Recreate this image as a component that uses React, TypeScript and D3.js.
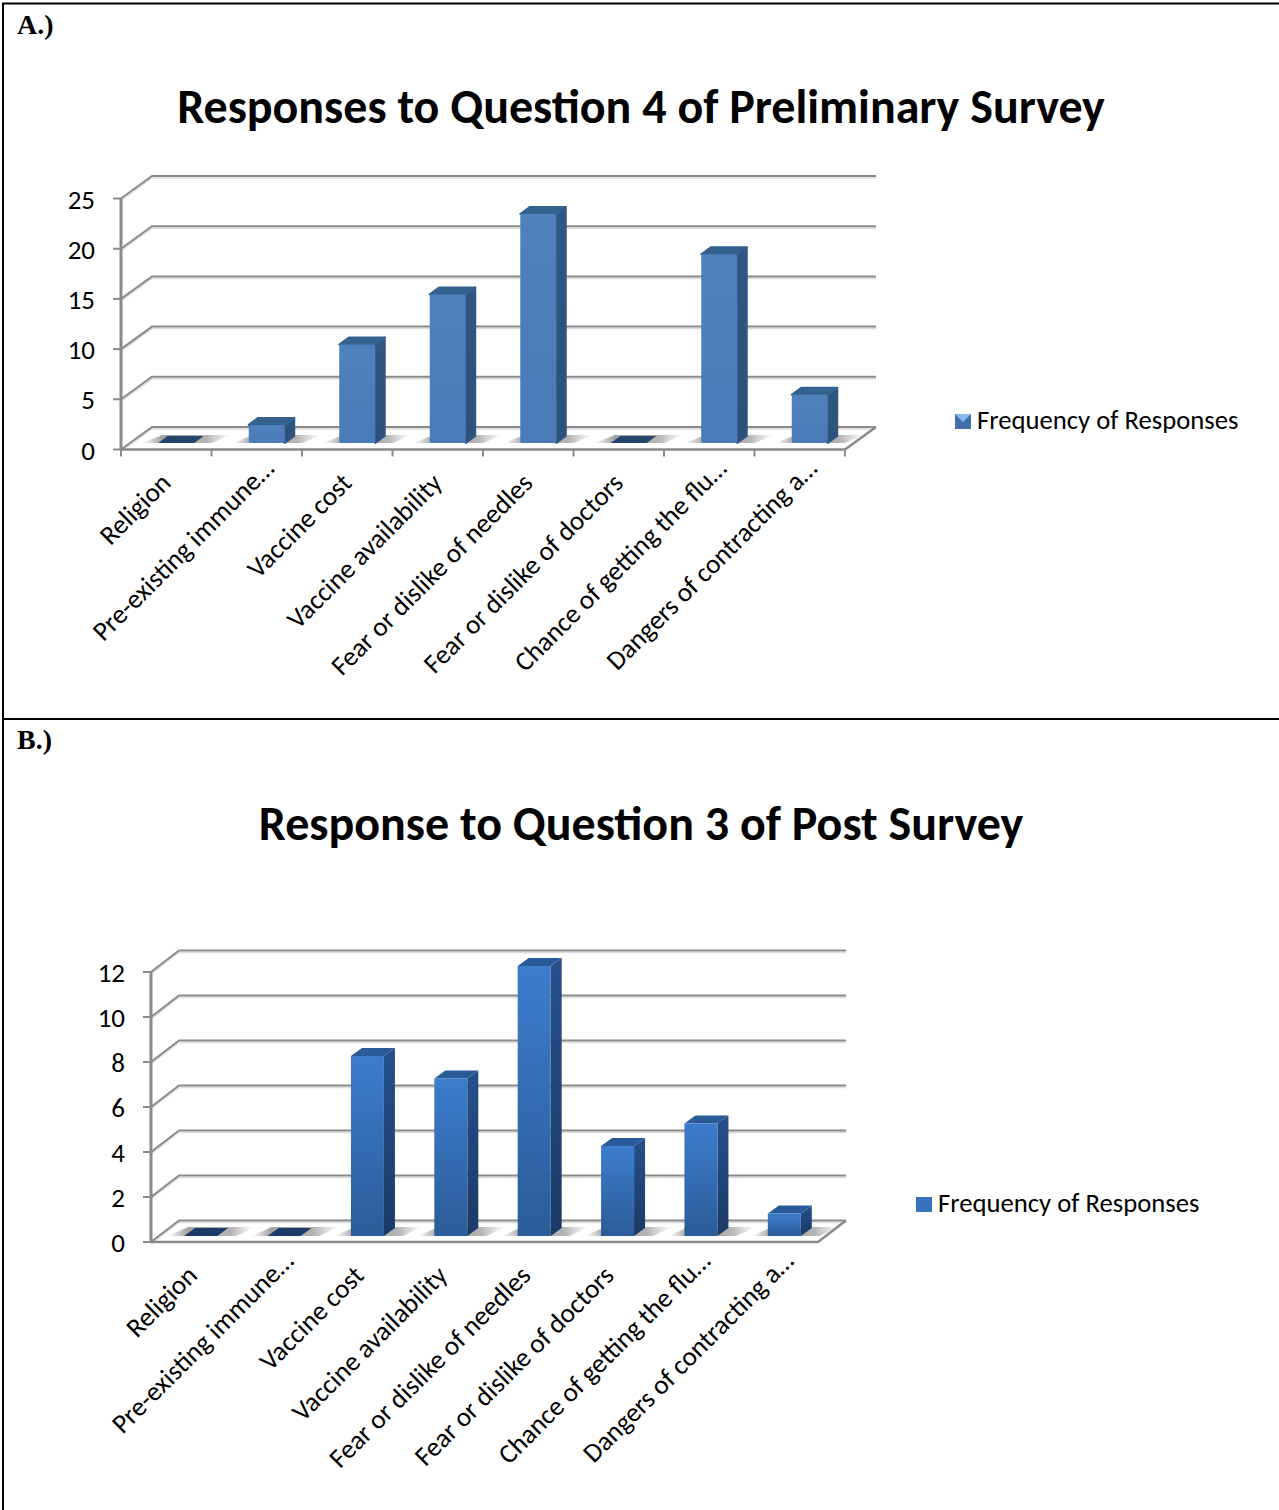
import React from "react";
import * as d3 from "d3";

const categories = [
  "Religion",
  "Pre-existing immune…",
  "Vaccine cost",
  "Vaccine availability",
  "Fear or dislike of needles",
  "Fear or dislike of doctors",
  "Chance of getting the flu…",
  "Dangers of contracting a…",
];
const preliminaryCounts = [0, 2, 10, 15, 23, 0, 19, 5];
const postCounts = [0, 0, 8, 7, 12, 4, 5, 1];
const preliminaryTicks = [0, 5, 10, 15, 20, 25];
const postTicks = [0, 2, 4, 6, 8, 10, 12];
const seriesName = "Frequency of Responses";

const SANS = "Carlito, Calibri, Lato, sans-serif";

type PanelProps = {
  id: string;
  letter: string;
  letterY: number;
  title: string;
  titleY: number;
  values: number[];
  ticks: number[];
  domainMax: number;
  frontLeft: number;
  frontRight: number;
  frontTop: number;
  frontBottom: number;
  depthX: number;
  depthY: number;
  barWidth: number;
  barDepthX: number;
  barDepthY: number;
  barBaseLift: number;
  barShift: number;
  bevel: number;
  categoryTicks: boolean;
  legendX: number;
  legendY: number;
  pyramidSwatch: boolean;
  faceTop: string;
  faceBottom: string;
  sideTop: string;
  sideBottom: string;
  topColor: string;
  emptyColor: string;
  flatColor: string;
};

const polygon = (pts: [number, number][]) => {
  const p = d3.path();
  pts.forEach(([x, y], i) => (i ? p.lineTo(x, y) : p.moveTo(x, y)));
  p.closePath();
  return p.toString();
};

function Panel(o: PanelProps) {
  const y = d3.scaleLinear().domain([0, o.domainMax]).range([o.frontBottom, o.frontTop]);
  const band = d3
    .scaleBand<string>()
    .domain(categories)
    .range([o.frontLeft, o.frontRight]);
  const backLeft = o.frontLeft + o.depthX;
  const backRight = o.frontRight + o.depthX;
  const baseY = o.frontBottom - o.barBaseLift;
  const unit = o.frontBottom - y(1);
  const axis = "#8a8a8a";
  const soften = o.bevel > 0 ? { strokeWidth: 2, strokeLinejoin: "round" as const } : {};

  return (
    <g>
      <defs>
        <linearGradient id={`${o.id}-face`} x1="0" y1="0" x2="0" y2="1">
          <stop offset="0" stopColor={o.faceTop} />
          <stop offset="1" stopColor={o.faceBottom} />
        </linearGradient>
        <linearGradient id={`${o.id}-side`} x1="0" y1="0" x2="0" y2="1">
          <stop offset="0" stopColor={o.sideTop} />
          <stop offset="1" stopColor={o.sideBottom} />
        </linearGradient>
        <linearGradient id={`${o.id}-shadow`} x1="0" y1="0" x2="1" y2="0">
          <stop offset="0" stopColor="#666" stopOpacity="0" />
          <stop offset="0.22" stopColor="#666" stopOpacity="0.6" />
          <stop offset="0.72" stopColor="#777" stopOpacity="0.55" />
          <stop offset="1" stopColor="#888" stopOpacity="0" />
        </linearGradient>
      </defs>

      <text x={17} y={o.letterY} fontFamily="'Liberation Serif', serif" fontWeight={700} fontSize={28} fill="#000">
        {o.letter}
      </text>
      <text
        x={641}
        y={o.titleY}
        textAnchor="middle"
        fontFamily={SANS}
        fontWeight={700}
        fontSize={48}
        fill="#000"
      >
        {o.title}
      </text>

      {/* back wall rules and their slanted returns to the value axis */}
      {o.ticks.map((t) => (
        <g key={t}>
          <path
            d={`M${o.frontLeft},${y(t) + 2}L${backLeft},${y(t) - o.depthY + 2}H${backRight}`}
            fill="none"
            stroke="#dcdcdc"
            strokeWidth={1.5}
          />
          <path
            d={`M${o.frontLeft},${y(t)}L${backLeft},${y(t) - o.depthY}H${backRight}`}
            fill="none"
            stroke={axis}
            strokeWidth={2}
          />
          <line x1={o.frontLeft - 8} x2={o.frontLeft} y1={y(t)} y2={y(t)} stroke={axis} strokeWidth={2} />
          <text
            x={o.frontLeft - 26}
            y={y(t) + 10}
            textAnchor="end"
            fontFamily={SANS}
            fontSize={27}
            fill="#000"
          >
            {t}
          </text>
        </g>
      ))}

      {/* floor edges */}
      <path
        d={`M${o.frontLeft},${o.frontBottom}H${o.frontRight}L${backRight},${o.frontBottom - o.depthY}`}
        fill="none"
        stroke={axis}
        strokeWidth={2.5}
      />
      <line x1={o.frontLeft} x2={o.frontLeft} y1={o.frontTop} y2={o.frontBottom} stroke={axis} strokeWidth={3} />

      {o.categoryTicks &&
        d3.range(categories.length + 1).map((i) => {
          const tx = o.frontLeft + i * band.step();
          return (
            <line key={i} x1={tx} x2={tx} y1={o.frontBottom} y2={o.frontBottom + 7} stroke={axis} strokeWidth={2} />
          );
        })}

      {/* floor shadows sit under every column */}
      {categories.map((c) => {
        const cx = band(c)! + band.step() / 2 + o.barShift;
        const l = cx - o.barWidth / 2;
        const r = cx + o.barWidth / 2 + o.barDepthX;
        return (
          <path
            key={c}
            d={polygon([
              [l - 16, baseY],
              [r + 8, baseY],
              [r + 27, baseY - o.barDepthY - 1],
              [l + 4, baseY - o.barDepthY - 1],
            ])}
            fill={`url(#${o.id}-shadow)`}
          />
        );
      })}

      {/* columns: side, top, then front face; an empty category keeps only a dark footprint */}
      {categories.map((c, i) => {
        const v = o.values[i];
        const cx = band(c)! + band.step() / 2 + o.barShift;
        const l = cx - o.barWidth / 2;
        const r = cx + o.barWidth / 2;
        const top = v > 0 ? baseY - v * unit + o.bevel : baseY;
        const dx = o.barDepthX;
        const dy = o.barDepthY;
        if (v === 0) {
          return (
            <path
              key={c}
              d={polygon([
                [l, baseY],
                [l + dx, baseY - dy],
                [r + dx, baseY - dy],
                [r, baseY],
              ])}
              fill={o.emptyColor}
            />
          );
        }
        return (
          <g key={c}>
            <path
              d={polygon([
                [r, top],
                [r + dx, top - dy],
                [r + dx, baseY - dy],
                [r, baseY],
              ])}
              fill={`url(#${o.id}-side)`}
              stroke={o.bevel > 0 ? o.sideTop : "none"}
              {...soften}
            />
            <path
              d={polygon([
                [l, top],
                [l + dx, top - dy],
                [r + dx, top - dy],
                [r, top],
              ])}
              fill={o.topColor}
              stroke={o.bevel > 0 ? o.topColor : "none"}
              {...soften}
            />
            <rect
              x={l}
              y={top}
              width={o.barWidth}
              height={baseY - top}
              rx={o.bevel}
              fill={`url(#${o.id}-face)`}
            />
          </g>
        );
      })}

      {/* category labels, read along a 45 degree slope; shortened ones sit further along the slope */}
      {categories.map((c) => {
        const cx = band(c)! + band.step() / 2;
        const truncated = c.endsWith("…");
        const ex = cx + (truncated ? 19 : 6);
        const ey = o.frontBottom + (truncated ? 20.5 : 35);
        return (
          <text
            key={c}
            transform={`translate(${ex},${ey}) rotate(-45)`}
            textAnchor="end"
            fontFamily={SANS}
            fontSize={27}
            fill="#000"
          >
            {c}
          </text>
        );
      })}

      {/* legend */}
      <g>
        <rect x={o.legendX} y={o.legendY - 7} width={16} height={15} fill={o.flatColor} />
        {o.pyramidSwatch && (
          <path
            d={polygon([
              [o.legendX, o.legendY - 7],
              [o.legendX + 16, o.legendY - 7],
              [o.legendX + 8, o.legendY + 1],
            ])}
            fill="#8db8ea"
          />
        )}
        <text x={o.legendX + 22} y={o.legendY + 8} fontFamily={SANS} fontSize={26.7} fill="#000">
          {seriesName}
        </text>
      </g>
    </g>
  );
}

export default function App() {
  return (
    <svg
      width={1279}
      height={1510}
      style={{ position: "absolute", left: 0, top: 0, background: "#fff" }}
      xmlns="http://www.w3.org/2000/svg"
    >
      <path d="M3,1510V3.5H1279M3,719H1279" fill="none" stroke="#000" strokeWidth={2} />
      <Panel
        id="pre"
        letter="A.)"
        letterY={34}
        title="Responses to Question 4 of Preliminary Survey"
        titleY={123}
        values={preliminaryCounts}
        ticks={preliminaryTicks}
        domainMax={25}
        frontLeft={121}
        frontRight={845}
        frontTop={198.5}
        frontBottom={449.5}
        depthX={31}
        depthY={22.5}
        barWidth={36}
        barDepthX={9.5}
        barDepthY={7}
        barBaseLift={6.5}
        barShift={10}
        bevel={2}
        categoryTicks
        legendX={955}
        legendY={421}
        pyramidSwatch
        faceTop="#4f81bd"
        faceBottom="#4a7bb8"
        sideTop="#2f5782"
        sideBottom="#2c5078"
        topColor="#35618f"
        emptyColor="#24446c"
        flatColor="#3f6ea8"
      />
      <Panel
        id="post"
        letter="B.)"
        letterY={749}
        title="Response to Question 3 of Post Survey"
        titleY={840}
        values={postCounts}
        ticks={postTicks}
        domainMax={12}
        frontLeft={151}
        frontRight={818}
        frontTop={972}
        frontBottom={1242}
        depthX={28}
        depthY={21.5}
        barWidth={33}
        barDepthX={11}
        barDepthY={8}
        barBaseLift={6}
        barShift={8}
        bevel={0}
        categoryTicks={false}
        legendX={916}
        legendY={1204}
        pyramidSwatch={false}
        faceTop="#3c7ccd"
        faceBottom="#2c5c98"
        sideTop="#25508a"
        sideBottom="#1a3a66"
        topColor="#2a5a98"
        emptyColor="#1b3c68"
        flatColor="#3672be"
      />
    </svg>
  );
}
